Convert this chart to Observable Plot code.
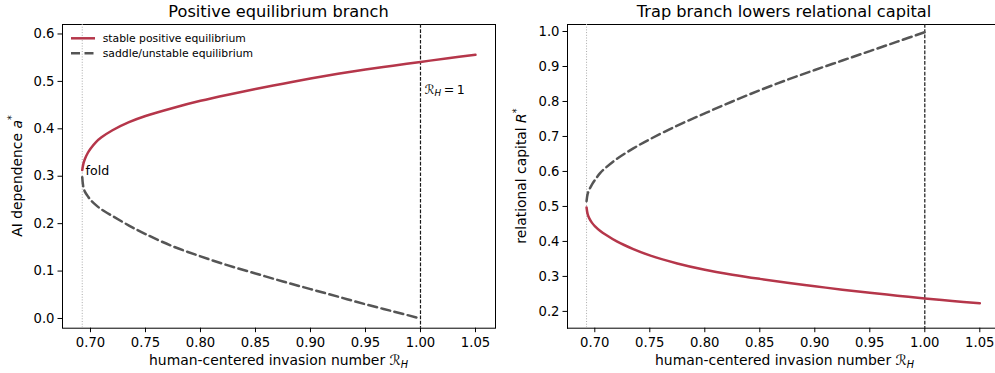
<!DOCTYPE html>
<html>
<head>
<meta charset="utf-8">
<script src="https://cdn.jsdelivr.net/npm/d3@7"></script>
<script src="https://cdn.jsdelivr.net/npm/@observablehq/plot@0.6"></script>
<style>
  html, body { margin: 0; padding: 0; background: #fff; }
  #wrap { display: flex; width: 995px; height: 373px; overflow: hidden; font-family: "DejaVu Sans", sans-serif; }
  #wrap svg { display: block; flex: none; }
</style>
</head>
<body>
<div id="wrap"></div>
<script>
// ---- data ----
const foldRH = 0.6925;
const thresholdRH = 1.0;

// Left panel: AI dependence a*
const stableA_RH  = [0.6925, 0.6935, 0.695, 0.6975, 0.70, 0.705, 0.71, 0.72, 0.735, 0.75, 0.775, 0.80, 0.825, 0.85, 0.875, 0.90, 0.925, 0.95, 0.975, 1.00, 1.025, 1.05];
const stableA     = [0.313, 0.326, 0.337, 0.349, 0.358, 0.372, 0.382, 0.397, 0.414, 0.427, 0.444, 0.459, 0.472, 0.484, 0.495, 0.506, 0.516, 0.525, 0.533, 0.541, 0.549, 0.556];
const unstableA_RH = [0.6925, 0.6935, 0.695, 0.6975, 0.70, 0.705, 0.71, 0.72, 0.735, 0.75, 0.775, 0.80, 0.825, 0.85, 0.875, 0.90, 0.925, 0.95, 0.975, 1.00];
const unstableA    = [0.298, 0.277, 0.267, 0.258, 0.250, 0.239, 0.230, 0.216, 0.196, 0.178, 0.152, 0.131, 0.112, 0.095, 0.078, 0.062, 0.046, 0.030, 0.015, 0.000];

// Right panel: relational capital R*
const stableR_RH  = [0.6925, 0.6935, 0.695, 0.6975, 0.70, 0.705, 0.71, 0.72, 0.735, 0.75, 0.775, 0.80, 0.825, 0.85, 0.875, 0.90, 0.925, 0.95, 0.975, 1.00, 1.025, 1.05];
const stableR     = [0.497, 0.478, 0.466, 0.453, 0.444, 0.430, 0.419, 0.400, 0.378, 0.360, 0.337, 0.319, 0.305, 0.293, 0.282, 0.272, 0.262, 0.253, 0.245, 0.237, 0.230, 0.223];
const unstableR_RH = [0.6925, 0.6935, 0.695, 0.6975, 0.70, 0.705, 0.71, 0.72, 0.735, 0.75, 0.775, 0.80, 0.825, 0.85, 0.875, 0.90, 0.925, 0.95, 0.975, 1.00];
const unstableR    = [0.515, 0.536, 0.548, 0.563, 0.575, 0.596, 0.611, 0.636, 0.666, 0.692, 0.731, 0.766, 0.800, 0.832, 0.862, 0.890, 0.917, 0.944, 0.971, 0.998];

const xTicks = [0.70, 0.75, 0.80, 0.85, 0.90, 0.95, 1.00, 1.05];
const yTicksLeft = [0.0, 0.1, 0.2, 0.3, 0.4, 0.5, 0.6];
const yTicksRight = [0.2, 0.3, 0.4, 0.5, 0.6, 0.7, 0.8, 0.9, 1.0];

const titles = ["Positive equilibrium branch", "Trap branch lowers relational capital"];
const legendLabels = ["stable positive equilibrium", "saddle/unstable equilibrium"];

// ---- styling ----
const RED = "#b5364a";
const GREY = "#555555";
const FONT = "DejaVu Sans";
const TICK_FS = 13.2;
const LABEL_FS = 13.9;
const ANNO_FS = 12.6;

const zip = (xs, ys) => xs.map((x, i) => ({x, y: ys[i]}));

function panel({width, marginLeft, marginRight, xDomain, yDomain, yTicks, stable, unstable, frameAnchors, extraMarks}) {
  return Plot.plot({
    width, height: 373,
    marginTop: 24, marginBottom: 45.3, marginLeft, marginRight,
    style: {fontFamily: FONT, fontSize: TICK_FS + "px", background: "white", color: "#000", overflow: "visible"},
    x: {domain: xDomain},
    y: {domain: yDomain},
    marks: [
      Plot.axisX({ticks: xTicks, tickFormat: ".2f", label: null, tickSize: 4.5, tickPadding: 4.6, fontSize: TICK_FS}),
      Plot.axisY({ticks: yTicks, tickFormat: ".1f", label: null, tickSize: 4.5, tickPadding: 3.5, fontSize: TICK_FS}),
      ...frameAnchors.map(a => a ? Plot.frame({anchor: a, stroke: "#000", strokeWidth: 1}) : Plot.frame({stroke: "#000", strokeWidth: 1})),
      Plot.ruleX([foldRH], {stroke: "#aaaaaa", strokeWidth: 1, strokeDasharray: "1,1.7"}),
      Plot.ruleX([thresholdRH], {stroke: "#1a1a1a", strokeWidth: 1.2, strokeDasharray: "3.7,1.6"}),
      Plot.line(unstable, {x: "x", y: "y", stroke: GREY, strokeWidth: 2.5, strokeDasharray: "9,4.5", curve: "catmull-rom"}),
      Plot.line(stable, {x: "x", y: "y", stroke: RED, strokeWidth: 2.5, curve: "catmull-rom"}),
      ...(extraMarks || [])
    ]
  });
}

const left = panel({
  width: 497, marginLeft: 62, marginRight: 2,
  xDomain: [0.67455, 1.06819], yDomain: [-0.0205, 0.620], yTicks: yTicksLeft,
  stable: zip(stableA_RH, stableA), unstable: zip(unstableA_RH, unstableA),
  frameAnchors: [null],
  extraMarks: [
    Plot.text(["fold"], {x: 0.6955, y: 0.311, text: d => d, textAnchor: "start", fontSize: ANNO_FS, fill: "#000"}),
    Plot.text(["@RH1"], {x: 1.0036, y: 0.483, text: d => d, textAnchor: "start", fontSize: ANNO_FS, fill: "#000"})
  ]
});

const right = panel({
  width: 498, marginLeft: 70, marginRight: 0,
  xDomain: [0.67518, 1.06427], yDomain: [0.152, 1.020], yTicks: yTicksRight,
  stable: zip(stableR_RH, stableR), unstable: zip(unstableR_RH, unstableR),
  frameAnchors: ["top", "left", "bottom"]
});

document.getElementById("wrap").append(left, right);

// ---- rich text helpers ----
function richText(sel, parts) {
  sel.text(null);
  parts.forEach(p => {
    const t = sel.append("tspan").text(p.t);
    if (p.italic) t.attr("font-style", "italic");
    if (p.size) t.attr("font-size", p.size);
    if (p.dy != null) t.attr("dy", p.dy);
    if (p.family) t.attr("font-family", p.family);
  });
}
const calR = (sub, fs) => [
  {t: "\u211B", family: "'DejaVu Serif', 'DejaVu Sans', serif"},
  {t: sub, size: fs * 0.7, dy: fs * 0.22, italic: true},
];

// R_H = 1 annotation
d3.select(left).selectAll("text").filter(function() { return this.textContent === "@RH1"; })
  .each(function() {
    richText(d3.select(this), [...calR("H", ANNO_FS), {t: "\u2009=\u20091", dy: -ANNO_FS * 0.22}]);
  });

function addText(svg, {x, y, rotate, anchor = "middle", size, parts}) {
  const t = d3.select(svg).append("text")
    .attr("font-family", FONT).attr("font-size", size).attr("fill", "#000")
    .attr("text-anchor", anchor)
    .attr("transform", `translate(${x},${y})` + (rotate ? ` rotate(${rotate})` : ""));
  richText(t, parts);
}

// titles
addText(left,  {x: 278.5, y: 16.8, size: 16.2, parts: [{t: titles[0]}]});
addText(right, {x: 784 - 497, y: 16.8, size: 16.2, parts: [{t: titles[1]}]});

// x labels
const xlab = [{t: "human-centered invasion number "}, ...calR("H", LABEL_FS)];
addText(left,  {x: 278.5, y: 365.3, size: LABEL_FS, parts: xlab});
addText(right, {x: 784.5 - 497, y: 365.3, size: LABEL_FS, parts: xlab});

// y labels
addText(left, {x: 21.7, y: 176, rotate: -90, size: LABEL_FS, parts: [
  {t: "AI dependence "}, {t: "a", italic: true}, {t: "*", size: LABEL_FS * 0.7, dy: -LABEL_FS * 0.45}
]});
addText(right, {x: 526 - 497, y: 176, rotate: -90, size: LABEL_FS, parts: [
  {t: "relational capital "}, {t: "R", italic: true}, {t: "*", size: LABEL_FS * 0.7, dy: -LABEL_FS * 0.45}
]});

// legend (upper left of left panel)
const lg = d3.select(left).append("g").attr("font-family", FONT).attr("font-size", 10.8).attr("text-anchor", "start");
[[RED, null, 38.3], [GREY, "9,4.5", 53.3]].forEach(([c, dash, y], i) => {
  const ln = lg.append("line").attr("x1", 71).attr("x2", 95).attr("y1", y).attr("y2", y)
    .attr("stroke", c).attr("stroke-width", 2.5);
  if (dash) ln.attr("stroke-dasharray", dash);
  lg.append("text").attr("x", 102.7).attr("y", y + 3.9).attr("fill", "#000").attr("text-anchor", "start").text(legendLabels[i]);
});
</script>
</body>
</html>
